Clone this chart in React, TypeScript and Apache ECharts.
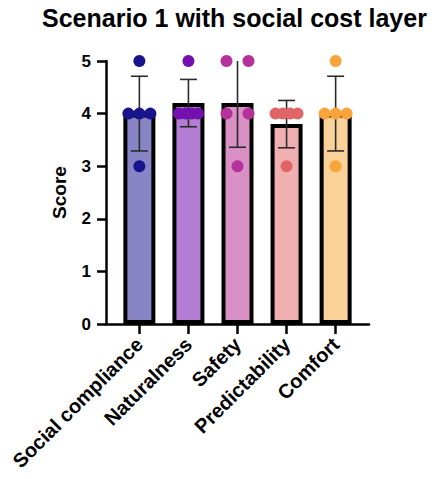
import React, { useEffect, useRef } from "react";
import * as echarts from "echarts";

const title = "Scenario 1 with social cost layer";
const categories = ["Social compliance", "Naturalness", "Safety", "Predictability", "Comfort"];
const means = [4.0, 4.2, 4.2, 3.8, 4.0];
const sds = [0.71, 0.45, 0.84, 0.45, 0.71];
const scores = [
  [5, 4, 4, 4, 3],
  [5, 4, 4, 4, 4],
  [5, 5, 4, 4, 3],
  [4, 4, 4, 4, 3],
  [5, 4, 4, 4, 3],
];
// horizontal jitter of each dot, in pixels
const jitter = [
  [0, -11, 0, 11, 0],
  [0, -9.5, -3.2, 3.2, 9.5],
  [-11, 11, -11, 11, 0],
  [-11, -3.7, 3.7, 11, 0],
  [0, -11, 0, 11, 0],
];
const yTicks = [0, 1, 2, 3, 4, 5];
const barColors = ["#8884C6", "#B27DD3", "#D991C5", "#F0B0B1", "#FAD199"];
const dotColors = ["#17148C", "#7310AE", "#B4329A", "#E06566", "#F9A43A"];

const FONT = "Liberation Sans, Arial, sans-serif";

export default function App() {
  const ref = useRef<HTMLDivElement>(null);
  useEffect(() => {
    if (!ref.current) return;
    const chart = echarts.init(ref.current, undefined, { renderer: "svg" });
    const idx = categories.map((_, i) => i);
    const yMax = yTicks[yTicks.length - 1];
    chart.setOption({
      animation: false,
      title: {
        text: title,
        left: 42,
        top: 5,
        padding: 0,
        textStyle: { fontFamily: FONT, fontSize: 25, fontWeight: "bold", color: "#000" },
      },
      grid: { left: 106, right: 67, top: 61, bottom: 155, containLabel: false },
      xAxis: {
        type: "value",
        min: -0.68,
        max: 4.68,
        splitLine: { show: false },
        axisLine: { show: true, onZero: false, lineStyle: { color: "#000", width: 2.5 } },
        axisTick: { show: true, customValues: idx, length: 10, lineStyle: { color: "#000", width: 2.5 } },
        axisLabel: {
          show: true,
          customValues: idx,
          rotate: 45,
          margin: 17,
          formatter: (v: number) => categories[Math.round(v)] ?? "",
          fontFamily: FONT,
          fontSize: 20,
          fontWeight: "bold",
          color: "#000",
        },
      },
      yAxis: {
        type: "value",
        min: 0,
        max: yMax,
        interval: 1,
        name: "Score",
        nameLocation: "middle",
        nameGap: 37,
        nameTextStyle: { fontFamily: FONT, fontSize: 19, fontWeight: "bold", color: "#000" },
        splitLine: { show: false },
        axisLine: { show: true, onZero: false, lineStyle: { color: "#000", width: 2.5 } },
        axisTick: { show: true, length: 9, lineStyle: { color: "#000", width: 2.5 } },
        axisLabel: { margin: 15, fontFamily: FONT, fontSize: 17, fontWeight: "bold", color: "#000" },
      },
      series: [
        {
          type: "bar",
          barWidth: 32,
          z: 2,
          data: means.map((m, i) => ({
            value: [i, m],
            itemStyle: { color: barColors[i], borderColor: "#000", borderWidth: 4 },
          })),
        },
        {
          type: "custom",
          z: 3,
          clip: false,
          data: means.map((m, i) => [i, m, sds[i]]),
          encode: { x: 0, y: 1 },
          renderItem: (params: any, api: any) => {
            const x = api.value(0);
            const m = api.value(1);
            const s = api.value(2);
            const topVal = Math.min(m + s, yMax);
            const top = api.coord([x, topVal]);
            const bot = api.coord([x, m - s]);
            const half = 8.5;
            const style = { stroke: "#2b2b2b", lineWidth: 1.6 };
            const children: any[] = [
              { type: "line", shape: { x1: top[0], y1: top[1], x2: bot[0], y2: bot[1] }, style },
              { type: "line", shape: { x1: bot[0] - half, y1: bot[1], x2: bot[0] + half, y2: bot[1] }, style },
            ];
            if (m + s <= yMax) {
              children.push({ type: "line", shape: { x1: top[0] - half, y1: top[1], x2: top[0] + half, y2: top[1] }, style });
            }
            return { type: "group", children };
          },
        },
        {
          type: "scatter",
          z: 4,
          clip: false,
          symbolSize: 12,
          data: scores.flatMap((arr, i) =>
            arr.map((v, j) => ({
              value: [i, v],
              symbolOffset: [jitter[i][j], 0],
              itemStyle: { color: dotColors[i], opacity: 1 },
            }))
          ),
        },
      ],
    });
    return () => chart.dispose();
  }, []);
  return <div ref={ref} style={{ width: 436, height: 479, margin: -8 }} />;
}
